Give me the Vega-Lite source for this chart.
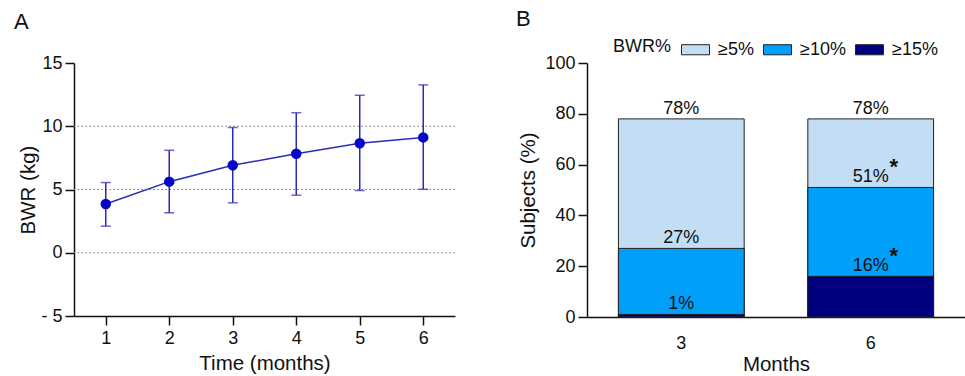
{
  "$schema": "https://vega.github.io/schema/vega-lite/v6.json",
  "padding": {"left": 13, "top": 8, "right": 0, "bottom": 0},
  "config": {
    "font": "Liberation Sans",
    "view": {"stroke": null},
    "axis": {
      "domainColor": "#111", "domainWidth": 1.5, "tickColor": "#111", "tickWidth": 1.5, "tickSize": 9,
      "labelFont": "Liberation Sans", "labelFontSize": 18, "labelColor": "#111",
      "titleFont": "Liberation Sans", "titleFontSize": 20.5, "titleFontWeight": "normal", "titleColor": "#111",
      "grid": false
    },
    "title": {"font": "Liberation Sans", "fontSize": 22, "fontWeight": "normal", "color": "#111", "anchor": "start", "frame": "bounds"}
  },
  "spacing": 132,
  "bounds": "flush",
  "resolve": {"scale": {"color": "independent"}, "legend": {"color": "independent"}},
  "hconcat": [
    {
      "title": {"text": "A", "offset": 20, "dx": -5},
      "width": 381,
      "height": 253,
      "data": {"values": [
        {"month": 1, "mean": 3.85, "lo": 2.1, "hi": 5.55},
        {"month": 2, "mean": 5.62, "lo": 3.16, "hi": 8.1},
        {"month": 3, "mean": 6.92, "lo": 3.95, "hi": 9.9},
        {"month": 4, "mean": 7.82, "lo": 4.55, "hi": 11.07},
        {"month": 5, "mean": 8.65, "lo": 4.92, "hi": 12.45},
        {"month": 6, "mean": 9.12, "lo": 5.02, "hi": 13.27}
      ]},
      "encoding": {
        "x": {"field": "month", "type": "quantitative",
              "scale": {"domain": [0.5, 6.5], "nice": false, "zero": false},
              "axis": {"title": "Time (months)", "values": [1, 2, 3, 4, 5, 6], "labelPadding": 4, "titlePadding": 6}}
      },
      "layer": [
        {
          "data": {"values": [{"g": 0}, {"g": 5}, {"g": 10}]},
          "mark": {"type": "rule", "color": "#777", "strokeDash": [1.5, 2.5], "strokeWidth": 1.2},
          "encoding": {"x": null, "y": {"field": "g", "type": "quantitative", "scale": {"domain": [-5, 15], "nice": false},
                  "axis": {"title": "BWR (kg)", "values": [-5, 0, 5, 10, 15], "labelPadding": 3, "titlePadding": 2,
                           "labelExpr": "datum.value < 0 ? '- ' + abs(datum.value) : datum.label"}}}
        },
        {
          "mark": {"type": "rule", "color": "#2a2ab8", "strokeWidth": 1.5},
          "encoding": {
            "y": {"field": "lo", "type": "quantitative", "scale": {"domain": [-5, 15], "nice": false},
                  "axis": {"title": "BWR (kg)", "values": [-5, 0, 5, 10, 15], "labelPadding": 3, "titlePadding": 2,
                           "labelExpr": "datum.value < 0 ? '- ' + abs(datum.value) : datum.label"}},
            "y2": {"field": "hi"}
          }
        },
        {
          "mark": {"type": "tick", "orient": "horizontal", "color": "#2a2ab8", "size": 10, "thickness": 1.5},
          "encoding": {"y": {"field": "lo", "type": "quantitative", "title": "BWR (kg)"}}
        },
        {
          "mark": {"type": "tick", "orient": "horizontal", "color": "#2a2ab8", "size": 10, "thickness": 1.5},
          "encoding": {"y": {"field": "hi", "type": "quantitative", "title": "BWR (kg)"}}
        },
        {
          "mark": {"type": "line", "color": "#2a2ab8", "strokeWidth": 1.5},
          "encoding": {"y": {"field": "mean", "type": "quantitative", "title": "BWR (kg)"}}
        },
        {
          "mark": {"type": "point", "filled": true, "opacity": 1, "color": "#0606c8", "size": 110},
          "encoding": {"y": {"field": "mean", "type": "quantitative", "title": "BWR (kg)"}}
        }
      ]
    },
    {
      "title": {"text": "B", "offset": 4, "dx": -3},
      "width": 378,
      "height": 254,
      "data": {"values": [
        {"month": "3", "level": "≥5%", "value": 78, "label": "78%", "star": ""},
        {"month": "3", "level": "≥10%", "value": 27, "label": "27%", "star": ""},
        {"month": "3", "level": "≥15%", "value": 1, "label": "1%", "star": ""},
        {"month": "6", "level": "≥5%", "value": 78, "label": "78%", "star": ""},
        {"month": "6", "level": "≥10%", "value": 51, "label": "51%", "star": "*"},
        {"month": "6", "level": "≥15%", "value": 16, "label": "16%", "star": "*"}
      ]},
      "encoding": {
        "x": {"field": "month", "type": "nominal",
              "scale": {"paddingInner": 0.336, "paddingOuter": 0.166},
              "axis": {"title": "Months", "labelAngle": 0, "ticks": false, "labelPadding": 17, "titlePadding": 2}},
        "y": {"field": "value", "type": "quantitative", "stack": null,
              "scale": {"domain": [0, 100], "nice": false},
              "axis": {"title": "Subjects (%)", "values": [0, 20, 40, 60, 80, 100], "labelPadding": 3, "titlePadding": 6}}
      },
      "layer": [
        {
          "mark": {"type": "bar", "stroke": "#222", "strokeWidth": 1},
          "encoding": {
            "color": {"field": "level", "type": "nominal",
                      "scale": {"domain": ["≥5%", "≥10%", "≥15%"], "range": ["#c2ddf4", "#009ff9", "#00007f"]},
                      "legend": {"title": "BWR%", "orient": "none", "legendX": 26, "legendY": -28, "direction": "horizontal",
                                 "titleOrient": "left", "titleFontSize": 18, "titleFontWeight": "normal", "titleColor": "#111",
                                 "titlePadding": 10, "labelFontSize": 18, "labelColor": "#111", "labelOffset": 8,
                                 "columnPadding": 7, "symbolType": "M-1,-0.36H1V0.36H-1Z", "symbolSize": 784,
                                 "symbolStrokeColor": "#222", "symbolStrokeWidth": 1, "symbolOpacity": 1}}
          }
        },
        {
          "mark": {"type": "text", "baseline": "alphabetic", "dy": -5, "fontSize": 18, "color": "#111"},
          "encoding": {"text": {"field": "label"}}
        },
        {
          "transform": [{"filter": "datum.star != ''"}],
          "mark": {"type": "text", "baseline": "alphabetic", "dy": -13, "dx": 23, "fontSize": 22, "fontWeight": "bold", "color": "#111"},
          "encoding": {"text": {"field": "star"}}
        }
      ]
    }
  ]
}
